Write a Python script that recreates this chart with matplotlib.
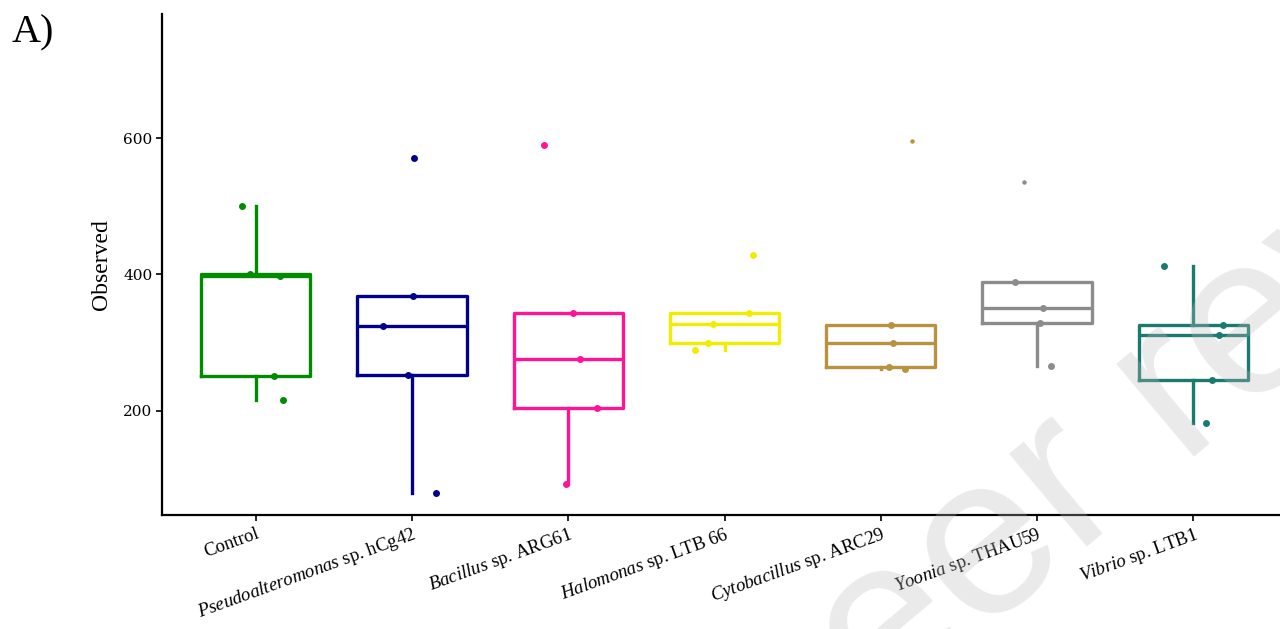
import numpy as np
import matplotlib
matplotlib.use("Agg")
import matplotlib.pyplot as plt

plt.rcParams["mathtext.fontset"] = "custom"
plt.rcParams["mathtext.rm"] = "Liberation Serif"
plt.rcParams["mathtext.it"] = "Liberation Serif:italic"

# --- data (Observed richness, 5 replicates per group) ---
groups = ["Control", "Pseudoalteromonas sp. hCg42", "Bacillus sp. ARG61",
          "Halomonas sp. LTB 66", "Cytobacillus sp. ARC29", "Yoonia sp. THAU59",
          "Vibrio sp. LTB1"]
tick_labels = ["Control",
               r"$\mathit{Pseudoalteromonas}$ sp. hCg42",
               r"$\mathit{Bacillus}$ sp. ARG61",
               r"$\mathit{Halomonas}$ sp. LTB 66",
               r"$\mathit{Cytobacillus}$ sp. ARC29",
               r"$\mathit{Yoonia}$ sp. THAU59",
               r"$\mathit{Vibrio}$ sp. LTB1"]

control = [501, 400, 398, 251, 216]
pseudo = [570, 369, 325, 253, 80]
bacillus = [590, 344, 276, 204, 93]
halomonas = [429, 343, 328, 299, 289]
cytobacillus = [595, 326, 300, 265, 261]
yoonia = [535, 389, 351, 329, 266]
vibrio = [413, 326, 311, 245, 182]

# horizontal jitter of each point (category units), same order as the values
jit_control = [-0.085, -0.038, 0.154, 0.115, 0.177]
jit_pseudo = [0.015, 0.006, -0.186, -0.024, 0.152]
jit_bacillus = [-0.156, 0.030, 0.072, 0.186, -0.017]
jit_halomonas = [0.183, 0.159, -0.071, -0.105, -0.186]
jit_cytobacillus = [0.197, 0.064, 0.077, 0.054, 0.156]
jit_yoonia = [-0.083, -0.138, 0.040, 0.022, 0.087]
jit_vibrio = [-0.188, 0.188, 0.163, 0.121, 0.079]

values = [control, pseudo, bacillus, halomonas, cytobacillus, yoonia, vibrio]
jitters = [jit_control, jit_pseudo, jit_bacillus, jit_halomonas,
           jit_cytobacillus, jit_yoonia, jit_vibrio]
colors = ["#008B00", "#00008B", "#FF1493", "#F0EE00", "#B8923F", "#8C8C8C", "#1B7A70"]
# a couple of the top points are drawn smaller in the reference
small_pts = {(4, 0), (5, 0)}

W, H = 1280, 629
fig = plt.figure(figsize=(W / 100, H / 100), dpi=100)
ax = fig.add_axes([162 / W, 1 - 515 / H, (1287 - 162) / W, (515 - 14) / H])

pos = np.arange(1, len(groups) + 1)
for i, (vals, col) in enumerate(zip(values, colors)):
    ax.boxplot([vals], positions=[pos[i]], widths=0.70, whis=1.5,
               showfliers=False, showcaps=False, patch_artist=False,
               boxprops=dict(color=col, lw=2.4),
               whiskerprops=dict(color=col, lw=2.4),
               medianprops=dict(color=col, lw=2.4))
    for j, (v, dx) in enumerate(zip(vals, jitters[i])):
        ms = 3.2 if (i, j) in small_pts else 5.0
        ax.plot(pos[i] + dx, v, "o", color=col, ms=ms, mec="none", zorder=3)

ax.set_xlim(0.4, len(groups) + 0.6)
ax.set_ylim(47.6, 781.7)
ax.set_yticks([200, 400, 600])
ax.set_xticks(pos)
ax.set_xticklabels(tick_labels, rotation=20, ha="right", va="top",
                   rotation_mode="anchor", fontsize=13.5, family="Liberation Serif")
for lab in ax.get_yticklabels():
    lab.set_family("DejaVu Serif")
    lab.set_fontsize(11)
ax.set_ylabel("Observed", family="Liberation Serif", fontsize=17, labelpad=8)

for s in ["top", "right"]:
    ax.spines[s].set_visible(False)
for s in ["left", "bottom"]:
    ax.spines[s].set_linewidth(1.6)
ax.tick_params(axis="both", length=4, width=1.2, color="black", pad=3)

fig.text(12 / W, 1 - 42 / H, "A)", family="Liberation Serif", fontsize=29,
         ha="left", va="baseline")

# preprint watermark
fig.text(783 / W, 1 - 802 / H, "peer review", family="Liberation Sans",
         fontsize=165, rotation=40, rotation_mode="anchor", ha="left",
         va="baseline", color="#BBBBBB", alpha=0.3, zorder=10)

fig.savefig("out.png", dpi=100)
